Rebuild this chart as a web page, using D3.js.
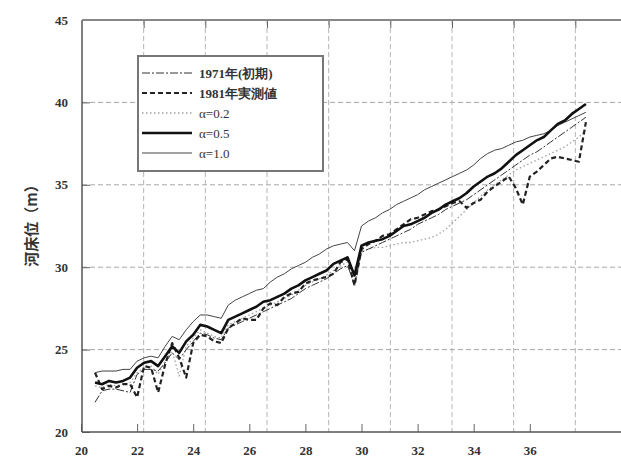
<!DOCTYPE html>
<html>
<head>
<meta charset="utf-8">
<title>河床位</title>
<script src="https://d3js.org/d3.v7.min.js"></script>
<style>
  body { margin: 0; background: #fff; }
  svg text { font-family: "Liberation Serif", "DejaVu Serif", serif; fill: #333; }
</style>
</head>
<body>
<script>
// 距離標 (km)
const dist = [20.5, 20.75, 21, 21.25, 21.5, 21.75, 22, 22.25, 22.5, 22.75,
  23, 23.25, 23.5, 23.75, 24, 24.25, 24.5, 24.75, 25, 25.25,
  25.5, 25.75, 26, 26.25, 26.5, 26.75, 27, 27.25, 27.5, 27.75,
  28, 28.25, 28.5, 28.75, 29, 29.25, 29.5, 29.75, 30, 30.25,
  30.5, 30.75, 31, 31.25, 31.5, 31.75, 32, 32.25, 32.5, 32.75,
  33, 33.25, 33.5, 33.75, 34, 34.25, 34.5, 34.75, 35, 35.25,
  35.5, 35.75, 36, 36.25, 36.5, 36.75, 37, 37.25, 37.5, 37.75, 38];

// 河床位 (m)
const bed1971 = [21.8, 22.5, 22.6, 22.6, 22.5, 22.4, 23.5, 23.8, 23.8, 23.7,
  24.2, 24.8, 24.4, 25.0, 25.5, 26.0, 25.9, 25.7, 25.6, 26.3,
  26.5, 26.7, 26.9, 27.1, 27.3, 27.5, 27.7, 27.9, 28.1, 28.4,
  28.7, 28.9, 29.1, 29.3, 29.6, 29.9, 30.1, 29.0, 30.9, 31.1,
  31.3, 31.5, 31.7, 31.9, 32.1, 32.3, 32.6, 32.8, 33.0, 33.2,
  33.5, 33.7, 33.9, 34.1, 34.4, 34.7, 35.0, 35.3, 35.6, 35.9,
  36.2, 36.5, 36.8, 37.0, 37.3, 37.6, 37.9, 38.2, 38.5, 38.8, 39.1];

const bed1981 = [23.6, 22.6, 22.8, 22.7, 22.9, 22.9, 22.1, 24.0, 23.9, 22.4,
  24.1, 25.4, 24.5, 23.3, 25.4, 25.9, 25.8, 25.5, 25.4, 26.3,
  26.6, 26.9, 26.8, 26.8, 27.5, 27.8, 27.7, 28.2, 28.4, 28.5,
  29.0, 29.2, 29.3, 29.4, 29.6, 30.3, 30.5, 28.9, 31.1, 31.4,
  31.6, 31.9, 32.0, 32.3, 32.6, 32.9, 33.0, 33.2, 33.4, 33.5,
  33.7, 33.9, 34.0, 33.6, 33.9, 34.1, 34.6, 34.9, 35.2, 35.5,
  34.8, 33.8, 35.5, 35.8, 36.2, 36.6, 36.7, 36.6, 36.5, 36.4, 38.8];

const alpha02 = [22.8, 22.7, 22.9, 22.8, 22.9, 23.0, 23.6, 23.9, 24.0, 23.5,
  24.3, 24.9, 23.4, 25.2, 25.7, 26.2, 26.0, 25.8, 25.7, 26.5,
  26.7, 26.9, 27.1, 27.3, 27.5, 27.7, 27.9, 28.1, 28.3, 28.6,
  28.9, 29.1, 29.3, 29.5, 29.8, 30.1, 30.3, 28.8, 31.0, 31.1,
  31.2, 31.2, 31.3, 31.4, 31.5, 31.5, 31.6, 31.7, 31.8, 32.0,
  32.3, 32.7, 33.1, 33.5, 33.9, 34.3, 34.7, 35.0, 35.3, 35.6,
  35.9, 36.1, 36.3, 36.5, 36.7, 36.9, 37.1, 37.3, 37.6, 37.9, 38.3];

const alpha05 = [23.0, 22.9, 23.1, 23.0, 23.1, 23.3, 23.9, 24.2, 24.3, 24.0,
  24.6, 25.2, 24.8, 25.5, 25.9, 26.5, 26.4, 26.2, 26.0, 26.8,
  27.0, 27.2, 27.4, 27.6, 27.9, 28.0, 28.2, 28.4, 28.7, 28.9,
  29.2, 29.4, 29.6, 29.8, 30.2, 30.4, 30.6, 29.5, 31.3, 31.5,
  31.6, 31.7, 31.9, 32.2, 32.5, 32.6, 32.8, 33.0, 33.3, 33.5,
  33.8, 34.0, 34.2, 34.5, 34.9, 35.2, 35.5, 35.7, 36.0, 36.4,
  36.8, 37.1, 37.4, 37.7, 37.9, 38.3, 38.7, 38.9, 39.3, 39.6, 39.9];

const alpha10 = [23.6, 23.7, 23.7, 23.7, 23.8, 23.8, 24.3, 24.5, 24.6, 24.5,
  25.2, 25.8, 25.6, 26.2, 26.7, 27.1, 27.1, 27.0, 26.9, 27.7,
  28.0, 28.2, 28.4, 28.6, 28.7, 29.1, 29.4, 29.6, 29.9, 30.1,
  30.3, 30.6, 30.8, 31.1, 31.3, 31.4, 31.5, 31.0, 32.5, 32.8,
  33.0, 33.3, 33.5, 33.8, 34.0, 34.2, 34.4, 34.7, 34.9, 35.1,
  35.3, 35.5, 35.7, 35.9, 36.2, 36.6, 36.9, 37.1, 37.2, 37.4,
  37.6, 37.7, 37.9, 38.0, 38.1, 38.3, 38.6, 38.8, 39.0, 39.2, 39.4];

const xTicks = [20, 22, 24, 26, 28, 30, 32, 34, 36];
const yTicks = [20, 25, 30, 35, 40, 45];
const gridCols = [1, 2, 3, 4, 5, 6, 7, 8];
const legendLabels = ["1971年(初期)", "1981年実測値", "α=0.2", "α=0.5", "α=1.0"];

const width = 621, height = 461;
const plotLeft = 82, plotTop = 20, plotBottom = 432;

const svg = d3.select("body").append("svg")
  .attr("width", width)
  .attr("height", height);

const x = d3.scaleLinear().domain([20, 40]).range([81, 642]);
const y = d3.scaleLinear().domain([20, 45]).range([plotBottom, plotTop]);
// 格子線は別の目盛り (9等分)
const gx = d3.scaleLinear().domain([0, 9]).range([plotLeft, 637]);

// 格子線
svg.append("g").selectAll("line")
  .data(gridCols)
  .enter().append("line")
  .attr("x1", d => gx(d)).attr("x2", d => gx(d))
  .attr("y1", plotTop).attr("y2", plotBottom)
  .attr("stroke", "#b5b5b5").attr("stroke-dasharray", "5,3");

svg.append("g").selectAll("line")
  .data(yTicks.filter(v => v > 20 && v < 45))
  .enter().append("line")
  .attr("x1", plotLeft).attr("x2", width)
  .attr("y1", d => y(d)).attr("y2", d => y(d))
  .attr("stroke", "#a8a8a8").attr("stroke-dasharray", "5,3");

// 軸
const gB = svg.append("g").attr("transform", `translate(0,${plotBottom})`);
gB.call(d3.axisBottom(x).tickValues(d3.range(20, 40, 1 / 3)).tickSize(-4).tickFormat(""));
gB.call(d3.axisBottom(x).tickValues(xTicks).tickSize(-8).tickPadding(14));
const gL = svg.append("g").attr("transform", `translate(${plotLeft},0)`);
gL.call(d3.axisLeft(y).tickValues(d3.range(20, 46, 1)).tickSize(-4).tickFormat(""));
gL.call(d3.axisLeft(y).tickValues(yTicks).tickSize(-8).tickPadding(14));
const gT = svg.append("g").attr("transform", `translate(0,${plotTop})`);
gT.call(d3.axisTop(gx).tickValues(gridCols).tickSize(-8).tickFormat(""));

svg.selectAll(".domain").remove();
svg.selectAll(".tick line").attr("stroke", "#666");
svg.selectAll(".tick text").attr("font-size", 13).attr("font-weight", "bold").attr("fill", "#333");

// 枠
svg.append("line").attr("x1", plotLeft).attr("x2", plotLeft).attr("y1", plotTop).attr("y2", plotBottom)
  .attr("stroke", "#555").attr("stroke-width", 1.5);
svg.append("line").attr("x1", plotLeft).attr("x2", width).attr("y1", plotBottom).attr("y2", plotBottom)
  .attr("stroke", "#555").attr("stroke-width", 1.5);
svg.append("line").attr("x1", plotLeft).attr("x2", width).attr("y1", plotTop).attr("y2", plotTop)
  .attr("stroke", "#888").attr("stroke-width", 2);

// 系列
const styles = [
  { data: alpha02, stroke: "#a0a0a0", width: 1.3, dash: "1.5,2.5" },
  { data: bed1971, stroke: "#333", width: 1, dash: "8,2,2,2" },
  { data: bed1981, stroke: "#222", width: 2.2, dash: "5,3" },
  { data: alpha10, stroke: "#444", width: 1, dash: null },
  { data: alpha05, stroke: "#111", width: 2.6, dash: null }
];

const line = d3.line()
  .x((d, i) => x(dist[i]))
  .y(d => y(d));

svg.append("g").selectAll("path")
  .data(styles)
  .enter().append("path")
  .attr("d", s => line(s.data))
  .attr("fill", "none")
  .attr("stroke", s => s.stroke)
  .attr("stroke-width", s => s.width)
  .attr("stroke-dasharray", s => s.dash)
  .attr("stroke-linejoin", "round");

// 凡例
const legendStyles = [styles[1], styles[2], styles[0], styles[4], styles[3]];
const lg = svg.append("g");
lg.append("rect")
  .attr("x", 138).attr("y", 56).attr("width", 185).attr("height", 115)
  .attr("fill", "#fff").attr("stroke", "#777").attr("stroke-width", 2);
const rows = lg.selectAll("g.row")
  .data(legendLabels)
  .enter().append("g")
  .attr("transform", (d, i) => `translate(0,${73 + i * 20})`);
rows.append("line")
  .attr("x1", 142).attr("x2", 192)
  .attr("stroke", (d, i) => legendStyles[i].stroke)
  .attr("stroke-width", (d, i) => legendStyles[i].width)
  .attr("stroke-dasharray", (d, i) => legendStyles[i].dash);
rows.append("text")
  .attr("x", 199).attr("dy", "0.35em")
  .attr("font-size", 13)
  .attr("font-weight", (d, i) => i < 2 ? "bold" : "normal")
  .text(d => d);

// 軸ラベル
svg.append("text")
  .attr("transform", "translate(32,222) rotate(-90)")
  .attr("text-anchor", "middle")
  .attr("dy", "0.35em")
  .attr("font-size", 15)
  .attr("font-weight", "bold")
  .style("font-family", "'Noto Sans CJK JP', sans-serif")
  .text("河床位（m）");
</script>
</body>
</html>
